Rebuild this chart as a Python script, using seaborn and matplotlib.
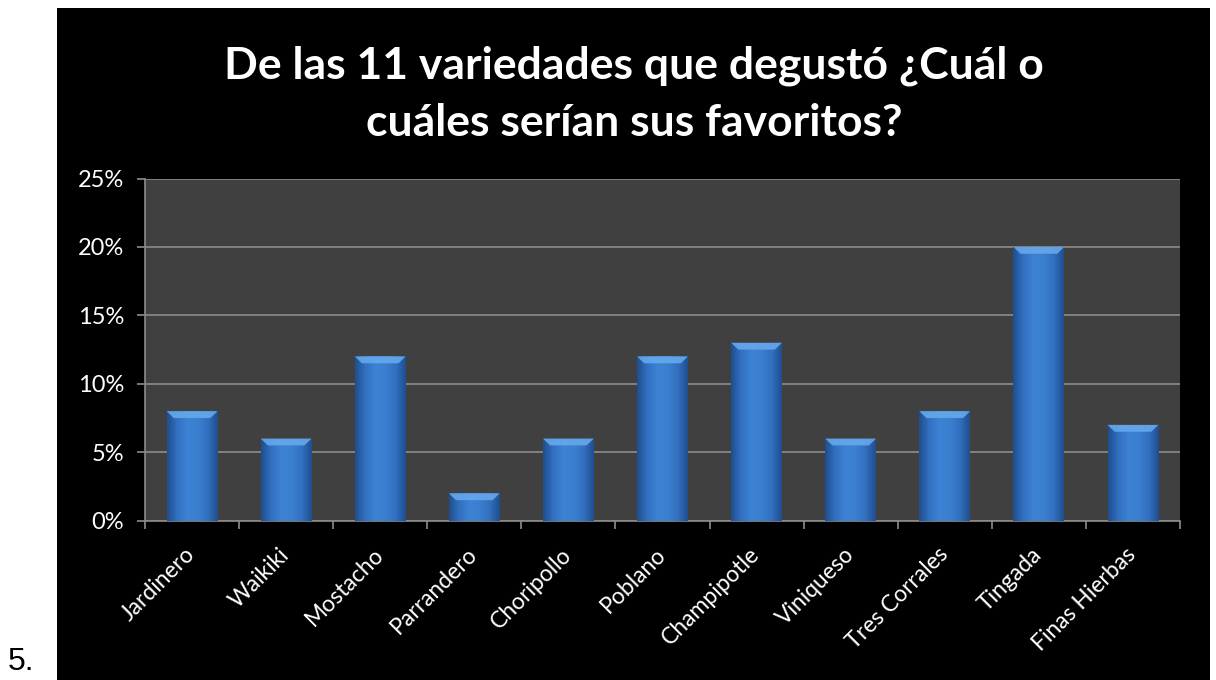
import numpy as np
import pandas as pd
import matplotlib
matplotlib.use("Agg")
import matplotlib.pyplot as plt
from matplotlib.patches import Rectangle, Polygon
from matplotlib.colors import LinearSegmentedColormap
from matplotlib.ticker import FixedLocator, PercentFormatter
import seaborn as sns

# Survey results: favourite varieties (% of respondents)
variedades = ["Jardinero", "Waikiki", "Mostacho", "Parrandero", "Choripollo",
              "Poblano", "Champipotle", "Viniqueso", "Tres Corrales", "Tingada",
              "Finas Hierbas"]
porcentajes = [8, 6, 12, 2, 6, 12, 13, 6, 8, 20, 7]
y_ticks = [0, 5, 10, 15, 20, 25]
titulo = "De las 11 variedades que degustó ¿Cuál o\ncuáles serían sus favoritos?"

df = pd.DataFrame({"variedad": variedades, "pct": porcentajes})

sns.set_theme(style="dark")
plt.rcParams["font.family"] = ["Lato", "DejaVu Sans"]

fig = plt.figure(figsize=(12.16, 6.8), dpi=100, facecolor="white")

# black chart panel
fig.patches.append(Rectangle((57 / 1216, 0), (1210 - 57) / 1216, (680 - 8) / 680,
                             transform=fig.transFigure, facecolor="black",
                             edgecolor="none", zorder=-5))

ax = fig.add_axes([145 / 1216, 1 - 520.7 / 680, (1180 - 145) / 1216, (520.7 - 178.5) / 680])
ax.set_zorder(2)
ax.set_facecolor("#404040")

sns.barplot(data=df, x="variedad", y="pct", ax=ax, color="#3a7bcc",
            width=0.54, saturation=1, edgecolor="none", zorder=3)

ax.set_ylim(0, 25)
ax.set_xlim(-0.5, len(variedades) - 0.5)

# gradient shading for each bar
cmap = LinearSegmentedColormap.from_list(
    "barra", ["#1f4e8e", "#3270c0", "#3d82d4", "#3b7fd0", "#3270c0", "#1f4e8e"])
grad = np.linspace(0, 1, 256).reshape(1, -1)
for p in list(ax.patches):
    x0, y0 = p.get_x(), p.get_y()
    w, h = p.get_width(), p.get_height()
    im = ax.imshow(grad, cmap=cmap, aspect="auto", extent=[x0, x0 + w, y0, y0 + h],
                   zorder=4, interpolation="bicubic")
    im.set_clip_path(p)
    cap = min(0.5, h * 0.4)
    inset = w * 0.14
    ax.add_patch(Polygon([(x0, y0 + h), (x0 + w, y0 + h),
                          (x0 + w - inset, y0 + h - cap), (x0 + inset, y0 + h - cap)],
                         closed=True, facecolor="#66a8ec", edgecolor="none",
                         alpha=0.9, zorder=5))
ax.set_xlim(-0.5, len(variedades) - 0.5)
ax.set_ylim(0, 25)

# grid, spines and ticks
ax.yaxis.set_major_locator(FixedLocator(y_ticks))
ax.yaxis.set_major_formatter(PercentFormatter(decimals=0))
ax.grid(axis="y", color="#8c8c8c", linewidth=1.2, zorder=1)
ax.grid(axis="x", visible=False)
ax.set_axisbelow(True)
for side in ["top", "right"]:
    ax.spines[side].set_visible(False)
for side in ["left", "bottom"]:
    ax.spines[side].set_visible(True)
    ax.spines[side].set_color("#8c8c8c")
    ax.spines[side].set_linewidth(1.2)

ax.tick_params(axis="y", which="major", colors="#8c8c8c", length=6, width=1.2,
               direction="out", left=True, labelcolor="white", labelsize=17, pad=9)
ax.set_xticks(range(len(variedades)))
ax.set_xticklabels(variedades, rotation=45, ha="right", va="center",
                   rotation_mode="anchor", color="white", fontsize=16.5)
ax.tick_params(axis="x", which="major", length=0, pad=22)
ax.set_xticks(np.arange(-0.5, len(variedades)), minor=True)
ax.tick_params(axis="x", which="minor", bottom=True, length=6, width=1.2,
               color="#8c8c8c", direction="out")

ax.set_xlabel("")
ax.set_ylabel("")

fig.text(634 / 1216, 1 - 94 / 680, titulo, ha="center", va="center", color="white",
         fontsize=32, fontweight="bold", linespacing=1.5)

fig.text(8 / 1216, 1 - 662 / 680, "5.", ha="left", va="center", color="black",
         fontsize=23, family=["Liberation Sans", "DejaVu Sans"])

fig.savefig("out.png", dpi=100, facecolor="white")
